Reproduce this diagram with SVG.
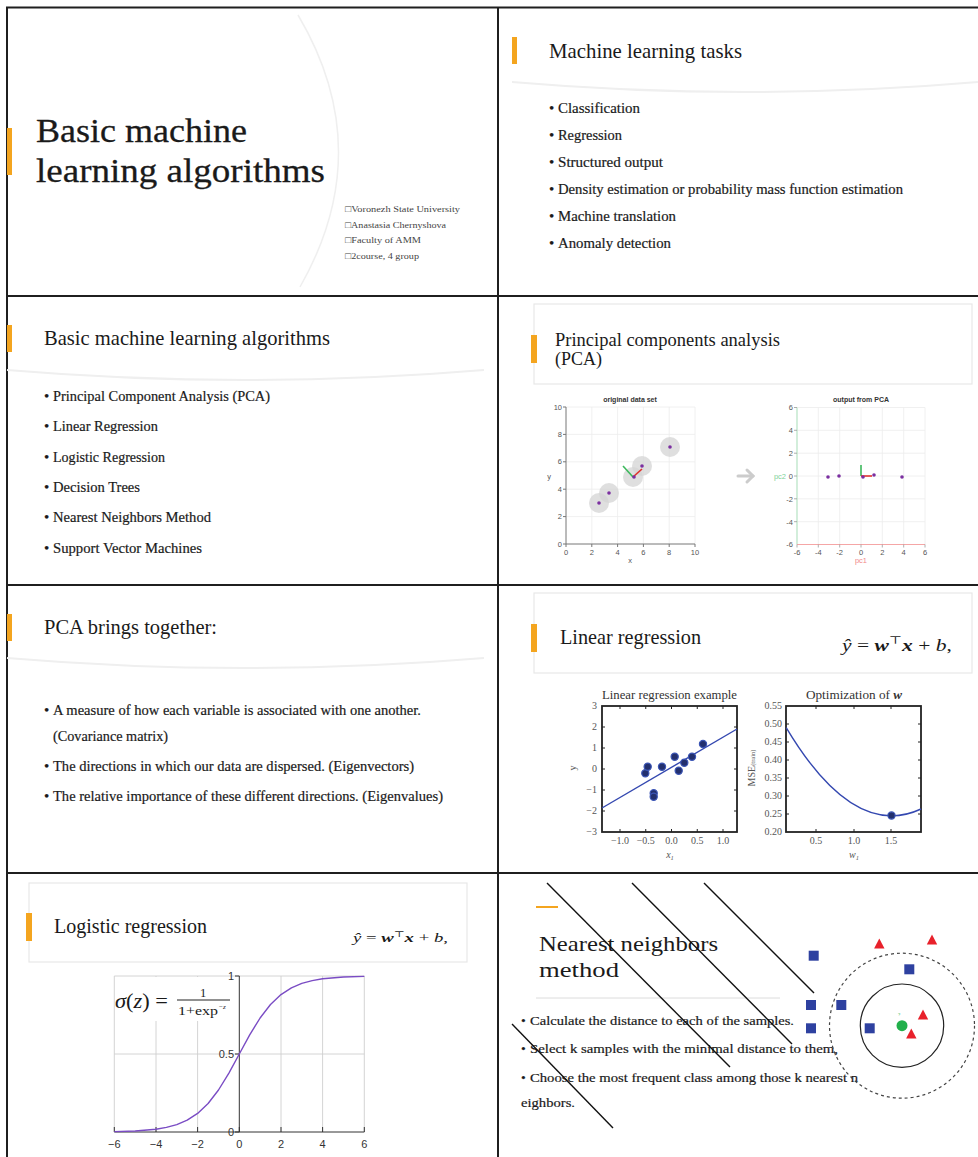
<svg xmlns="http://www.w3.org/2000/svg" width="978" height="1157" viewBox="0 0 978 1157">
  <style>
    .serif { font-family: "Liberation Serif", "DejaVu Serif", serif; fill: #1a1a1a; }
    .sans { font-family: "Liberation Sans", Arial, sans-serif; }
    .title { font-size: 21px; }
    .bul { font-size: 15px; stroke: #1a1a1a; stroke-width: 0.2; }
    .bar { fill: #f4a51f; }
    .sep { fill: none; stroke: #efefef; stroke-width: 2; }
    .hdr { fill: #ffffff; stroke: #e8e8e8; stroke-width: 1.2; }
    .frame { stroke: #1f1f1f; stroke-width: 2; fill: none; }
    .grid { stroke: #ececec; stroke-width: 0.8; fill: none; }
    .tick { font-size: 7.5px; fill: #555; }
    .mtick { font-family: "Liberation Serif", serif; font-size: 10px; fill: #555; }
    .lrbox { fill: none; stroke: #222; stroke-width: 1.8; }
    .pt { fill: #7b2fa0; }
    .dot { fill: #23306e; stroke: #3b55b5; stroke-width: 1.2; }
    .sq { fill: #2e41a0; }
    .tri { fill: #e8212b; }
    .diag { stroke: #111; stroke-width: 1.4; }
  </style>

  <!-- page frame: 2 x 4 grid of slides -->
  <g id="frame" class="frame">
    <line x1="6" y1="7.5" x2="978" y2="7.5"/>
    <line x1="7" y1="7" x2="7" y2="1157"/>
    <line x1="498" y1="7" x2="498" y2="1157"/>
    <line x1="6" y1="296" x2="978" y2="296"/>
    <line x1="6" y1="585" x2="978" y2="585"/>
    <line x1="6" y1="873" x2="978" y2="873"/>
  </g>

  <!-- slide 1: title -->
  <g id="slide-title">
    <path d="M298,15 Q378,150 300,287" fill="none" stroke="#efefef" stroke-width="1.5"/>
    <rect class="bar" x="7" y="128" width="5" height="47"/>
    <text class="serif" x="36" y="142" font-size="34" stroke="#1a1a1a" stroke-width="0.3" textLength="211" lengthAdjust="spacingAndGlyphs">Basic machine</text>
    <text class="serif" x="36" y="182" font-size="34" stroke="#1a1a1a" stroke-width="0.3" textLength="289" lengthAdjust="spacingAndGlyphs">learning algorithms</text>
    <g class="serif" font-size="9">
      <text x="345" y="212" style="fill:#444" textLength="115" lengthAdjust="spacingAndGlyphs">□Voronezh State University</text>
      <text x="345" y="228" style="fill:#444" textLength="101" lengthAdjust="spacingAndGlyphs">□Anastasia  Chernyshova</text>
      <text x="345" y="243" style="fill:#444" textLength="76" lengthAdjust="spacingAndGlyphs">□Faculty  of AMM</text>
      <text x="345" y="259" style="fill:#444" textLength="74" lengthAdjust="spacingAndGlyphs">□2course, 4 group</text>
    </g>
  </g>

  <!-- slide 2: tasks -->
  <g id="slide-tasks">
    <rect class="bar" x="512" y="37" width="5" height="27"/>
    <text class="serif" x="549" y="58" font-size="21" textLength="193" lengthAdjust="spacingAndGlyphs">Machine learning tasks</text>
    <path class="sep" d="M512,82 Q745,102 978,82"/>
    <g class="serif bul">
      <text x="549" y="113">•</text><text x="558" y="113" textLength="82" lengthAdjust="spacingAndGlyphs">Classification</text>
      <text x="549" y="140">•</text><text x="558" y="140" textLength="64" lengthAdjust="spacingAndGlyphs">Regression</text>
      <text x="549" y="167">•</text><text x="558" y="167" textLength="105" lengthAdjust="spacingAndGlyphs">Structured output</text>
      <text x="549" y="194">•</text><text x="558" y="194" textLength="345" lengthAdjust="spacingAndGlyphs">Density estimation or probability mass function estimation</text>
      <text x="549" y="221">•</text><text x="558" y="221" textLength="118" lengthAdjust="spacingAndGlyphs">Machine translation</text>
      <text x="549" y="248">•</text><text x="558" y="248" textLength="113" lengthAdjust="spacingAndGlyphs">Anomaly detection</text>
    </g>
  </g>

  <!-- slide 3: algorithm list -->
  <g id="slide-algorithms">
    <rect class="bar" x="7" y="325" width="5" height="27"/>
    <text class="serif title" x="44" y="345" textLength="286" lengthAdjust="spacingAndGlyphs">Basic machine learning algorithms</text>
    <path class="sep" d="M7,370 Q245,390 484,370"/>
    <g class="serif bul">
      <text x="44" y="401">•</text><text x="53" y="401" textLength="217" lengthAdjust="spacingAndGlyphs">Principal Component Analysis (PCA)</text>
      <text x="44" y="431">•</text><text x="53" y="431" textLength="105" lengthAdjust="spacingAndGlyphs">Linear Regression</text>
      <text x="44" y="462">•</text><text x="53" y="462" textLength="112" lengthAdjust="spacingAndGlyphs">Logistic Regression</text>
      <text x="44" y="492">•</text><text x="53" y="492" textLength="87" lengthAdjust="spacingAndGlyphs">Decision Trees</text>
      <text x="44" y="522">•</text><text x="53" y="522" textLength="158" lengthAdjust="spacingAndGlyphs">Nearest Neighbors Method</text>
      <text x="44" y="553">•</text><text x="53" y="553" textLength="149" lengthAdjust="spacingAndGlyphs">Support Vector Machines</text>
    </g>
  </g>

  <!-- slide 4: PCA charts -->
  <g id="slide-pca">
    <rect class="hdr" x="534" y="304" width="438" height="80"/>
    <rect class="bar" x="531" y="335" width="6" height="28"/>
    <text class="serif" x="555" y="346" font-size="19.5" textLength="225" lengthAdjust="spacingAndGlyphs">Principal components analysis</text>
    <text class="serif" x="555" y="365" font-size="19.5" textLength="47" lengthAdjust="spacingAndGlyphs">(PCA)</text>

    <!-- original data set -->
    <g id="pca-original" class="sans">
      <text x="630" y="402" text-anchor="middle" font-size="7" font-weight="bold" fill="#333">original data set</text>
      <g class="grid">
        <line x1="591.8" y1="407" x2="591.8" y2="544"/><line x1="617.6" y1="407" x2="617.6" y2="544"/>
        <line x1="643.4" y1="407" x2="643.4" y2="544"/><line x1="669.2" y1="407" x2="669.2" y2="544"/>
        <line x1="695" y1="407" x2="695" y2="544"/>
        <line x1="566" y1="407" x2="695" y2="407"/><line x1="566" y1="434.4" x2="695" y2="434.4"/>
        <line x1="566" y1="461.8" x2="695" y2="461.8"/><line x1="566" y1="489.2" x2="695" y2="489.2"/>
        <line x1="566" y1="516.6" x2="695" y2="516.6"/>
      </g>
      <g stroke="#777" stroke-width="1">
        <line x1="566" y1="407" x2="566" y2="544"/><line x1="566" y1="544" x2="695" y2="544"/>
        <line x1="563" y1="407" x2="566" y2="407"/><line x1="563" y1="434.4" x2="566" y2="434.4"/>
        <line x1="563" y1="461.8" x2="566" y2="461.8"/><line x1="563" y1="489.2" x2="566" y2="489.2"/>
        <line x1="563" y1="516.6" x2="566" y2="516.6"/><line x1="563" y1="544" x2="566" y2="544"/>
        <line x1="566" y1="544" x2="566" y2="547"/><line x1="591.8" y1="544" x2="591.8" y2="547"/>
        <line x1="617.6" y1="544" x2="617.6" y2="547"/><line x1="643.4" y1="544" x2="643.4" y2="547"/>
        <line x1="669.2" y1="544" x2="669.2" y2="547"/><line x1="695" y1="544" x2="695" y2="547"/>
      </g>
      <g class="tick" text-anchor="end">
        <text x="562" y="410">10</text><text x="562" y="437">8</text><text x="562" y="464">6</text>
        <text x="562" y="492">4</text><text x="562" y="519">2</text><text x="562" y="547">0</text>
      </g>
      <g class="tick" text-anchor="middle">
        <text x="566" y="555">0</text><text x="591.8" y="555">2</text><text x="617.6" y="555">4</text>
        <text x="643.4" y="555">6</text><text x="669.2" y="555">8</text><text x="695" y="555">10</text>
        <text x="630" y="563">x</text><text x="549" y="479">y</text>
      </g>
      <g fill="#d4d4d4" fill-opacity="0.75">
        <circle cx="599" cy="503" r="10"/><circle cx="609" cy="493" r="10"/>
        <circle cx="633" cy="477" r="10"/><circle cx="642" cy="466" r="10"/>
        <circle cx="670" cy="447" r="10"/>
      </g>
      <line x1="633" y1="477" x2="623" y2="466" stroke="#3cb85c" stroke-width="1.6"/>
      <line x1="633" y1="477" x2="642" y2="469" stroke="#e0332e" stroke-width="1.6"/>
      <g class="pt">
        <circle cx="599" cy="503" r="1.8"/><circle cx="609" cy="493" r="1.8"/>
        <circle cx="634" cy="477" r="1.8"/><circle cx="642" cy="466" r="1.8"/>
        <circle cx="670" cy="447" r="1.8"/>
      </g>
    </g>

    <!-- transformation arrow -->
    <g id="pca-arrow" fill="none" stroke="#cccccc" stroke-width="3" stroke-linecap="round">
      <line x1="738" y1="476" x2="753" y2="476"/>
      <polyline points="747,470 753,476 747,482"/>
    </g>

    <!-- output from PCA -->
    <g id="pca-output" class="sans">
      <text x="861" y="402" text-anchor="middle" font-size="7" font-weight="bold" fill="#333">output from PCA</text>
      <g class="grid">
        <line x1="818.3" y1="407.5" x2="818.3" y2="544.5"/><line x1="839.7" y1="407.5" x2="839.7" y2="544.5"/>
        <line x1="861" y1="407.5" x2="861" y2="544.5"/><line x1="882.3" y1="407.5" x2="882.3" y2="544.5"/>
        <line x1="903.7" y1="407.5" x2="903.7" y2="544.5"/><line x1="925" y1="407.5" x2="925" y2="544.5"/>
        <line x1="797" y1="407.5" x2="925" y2="407.5"/><line x1="797" y1="430.3" x2="925" y2="430.3"/>
        <line x1="797" y1="453.2" x2="925" y2="453.2"/><line x1="797" y1="476" x2="925" y2="476"/>
        <line x1="797" y1="498.8" x2="925" y2="498.8"/><line x1="797" y1="521.7" x2="925" y2="521.7"/>
      </g>
      <line x1="797" y1="407.5" x2="797" y2="544.5" stroke="#b5e3c3" stroke-width="1.2"/>
      <line x1="797" y1="544.5" x2="925" y2="544.5" stroke="#f5a6a6" stroke-width="1.2"/>
      <g stroke="#999" stroke-width="0.8">
        <line x1="794" y1="407.5" x2="797" y2="407.5"/><line x1="794" y1="430.3" x2="797" y2="430.3"/>
        <line x1="794" y1="453.2" x2="797" y2="453.2"/><line x1="794" y1="476" x2="797" y2="476"/>
        <line x1="794" y1="498.8" x2="797" y2="498.8"/><line x1="794" y1="521.7" x2="797" y2="521.7"/>
        <line x1="797" y1="544.5" x2="797" y2="547.5"/><line x1="818.3" y1="544.5" x2="818.3" y2="547.5"/>
        <line x1="839.7" y1="544.5" x2="839.7" y2="547.5"/><line x1="861" y1="544.5" x2="861" y2="547.5"/>
        <line x1="882.3" y1="544.5" x2="882.3" y2="547.5"/><line x1="903.7" y1="544.5" x2="903.7" y2="547.5"/>
        <line x1="925" y1="544.5" x2="925" y2="547.5"/>
      </g>
      <g class="tick" text-anchor="end">
        <text x="793" y="410">6</text><text x="793" y="433">4</text><text x="793" y="456">2</text>
        <text x="793" y="479">0</text><text x="793" y="501.5">-2</text><text x="793" y="524.5">-4</text>
        <text x="793" y="547">-6</text>
        <text x="786" y="479" fill="#7fd29a">pc2</text>
      </g>
      <g class="tick" text-anchor="middle">
        <text x="797" y="555">-6</text><text x="818.3" y="555">-4</text><text x="839.7" y="555">-2</text>
        <text x="861" y="555">0</text><text x="882.3" y="555">2</text><text x="903.7" y="555">4</text>
        <text x="925" y="555">6</text>
        <text x="861" y="563" fill="#f28a8a">pc1</text>
      </g>
      <line x1="861" y1="476" x2="861" y2="465" stroke="#3cb85c" stroke-width="1.6"/>
      <line x1="861" y1="476" x2="872" y2="476" stroke="#e0332e" stroke-width="1.6"/>
      <g class="pt">
        <circle cx="828" cy="477" r="1.8"/><circle cx="839" cy="476" r="1.8"/>
        <circle cx="863" cy="477" r="1.8"/><circle cx="874" cy="475" r="1.8"/>
        <circle cx="902" cy="477" r="1.8"/>
      </g>
    </g>
  </g>

  <!-- slide 5: PCA summary -->
  <g id="slide-pca-summary">
    <rect class="bar" x="7" y="614" width="5" height="27"/>
    <text class="serif title" x="44" y="634" textLength="173" lengthAdjust="spacingAndGlyphs">PCA brings together:</text>
    <path class="sep" d="M7,658 Q245,678 484,658"/>
    <g class="serif bul">
      <text x="44" y="715">•</text><text x="53" y="715" textLength="368" lengthAdjust="spacingAndGlyphs">A measure of how each variable is associated with one another.</text>
      <text x="53" y="741" textLength="115" lengthAdjust="spacingAndGlyphs">(Covariance matrix)</text>
      <text x="44" y="771">•</text><text x="53" y="771" textLength="361" lengthAdjust="spacingAndGlyphs">The directions in which our data  are dispersed. (Eigenvectors)</text>
      <text x="44" y="801">•</text><text x="53" y="801" textLength="390" lengthAdjust="spacingAndGlyphs">The relative importance of these different directions. (Eigenvalues)</text>
    </g>
  </g>

  <!-- slide 6: linear regression -->
  <g id="slide-linear">
    <rect class="hdr" x="534" y="593" width="438" height="80"/>
    <rect class="bar" x="531" y="624" width="6" height="28"/>
    <text class="serif title" x="560" y="644" textLength="141" lengthAdjust="spacingAndGlyphs">Linear regression</text>
    <text class="serif" x="842" y="651" font-size="17" textLength="110" lengthAdjust="spacingAndGlyphs"><tspan font-style="italic">ŷ</tspan> = <tspan font-weight="bold" font-style="italic">w</tspan><tspan font-size="11" dy="-7">⊤</tspan><tspan font-weight="bold" font-style="italic" dy="7">x</tspan> + <tspan font-style="italic">b</tspan>,</text>

    <!-- fitted line example -->
    <g id="lr-example">
      <text class="serif" x="602" y="699" font-size="12" style="fill:#333" textLength="135" lengthAdjust="spacingAndGlyphs">Linear regression example</text>
      <rect class="lrbox" x="602" y="706" width="135" height="126"/>
      <g stroke="#222" stroke-width="1">
        <path d="M602,727H605M602,748H605M602,769H605M602,790H605M602,811H605"/>
        <path d="M737,727H734M737,748H734M737,769H734M737,790H734M737,811H734"/>
        <path d="M620,706V709M645.75,706V709M671.5,706V709M697.25,706V709M723,706V709"/>
        <path d="M620,832V829M645.75,832V829M671.5,832V829M697.25,832V829M723,832V829"/>
      </g>
      <g class="mtick" text-anchor="end">
        <text x="597" y="709">3</text><text x="597" y="730">2</text><text x="597" y="751">1</text>
        <text x="597" y="772">0</text><text x="597" y="793">−1</text><text x="597" y="814">−2</text>
        <text x="597" y="835">−3</text>
      </g>
      <g class="mtick" text-anchor="middle">
        <text x="620" y="844">−1.0</text><text x="645.75" y="844">−0.5</text><text x="671.5" y="844">0.0</text>
        <text x="697.25" y="844">0.5</text><text x="723" y="844">1.0</text>
        <text x="670" y="858" font-style="italic">x<tspan font-size="6.5" dy="2">1</tspan></text>
      </g>
      <text class="mtick" transform="translate(576,768) rotate(-90)" text-anchor="middle">y</text>
      <line x1="602" y1="808" x2="737" y2="729" stroke="#3448b0" stroke-width="1.4"/>
      <g class="dot">
        <circle cx="645.3" cy="773.3" r="3.6"/><circle cx="647.7" cy="766.7" r="3.6"/>
        <circle cx="662" cy="766.7" r="3.6"/><circle cx="653.7" cy="793.3" r="3.6"/>
        <circle cx="653.7" cy="796.7" r="3.6"/><circle cx="674.7" cy="756.7" r="3.6"/>
        <circle cx="678.7" cy="770.7" r="3.6"/><circle cx="684.3" cy="762.7" r="3.6"/>
        <circle cx="692" cy="756.7" r="3.6"/><circle cx="703" cy="744" r="3.6"/>
      </g>
    </g>

    <!-- MSE versus weight -->
    <g id="lr-optimization">
      <text class="serif" x="806" y="699" font-size="12" style="fill:#333" textLength="96" lengthAdjust="spacingAndGlyphs">Optimization of <tspan font-weight="bold" font-style="italic">w</tspan></text>
      <rect class="lrbox" x="786" y="706" width="135" height="126"/>
      <g stroke="#222" stroke-width="1">
        <path d="M786,724H789M786,742H789M786,760H789M786,778H789M786,796H789M786,814H789"/>
        <path d="M921,724H918M921,742H918M921,760H918M921,778H918M921,796H918M921,814H918"/>
        <path d="M816,706V709M854,706V709M891,706V709M816,832V829M854,832V829M891,832V829"/>
      </g>
      <g class="mtick" text-anchor="end">
        <text x="782" y="709">0.55</text><text x="782" y="727">0.50</text><text x="782" y="745">0.45</text>
        <text x="782" y="763">0.40</text><text x="782" y="781">0.35</text><text x="782" y="799">0.30</text>
        <text x="782" y="817">0.25</text><text x="782" y="835">0.20</text>
      </g>
      <g class="mtick" text-anchor="middle">
        <text x="816" y="844">0.5</text><text x="854" y="844">1.0</text><text x="891" y="844">1.5</text>
        <text x="854" y="858" font-style="italic">w<tspan font-size="6.5" dy="2">1</tspan></text>
      </g>
      <text class="mtick" transform="translate(755,768) rotate(-90)" text-anchor="middle">MSE<tspan font-size="6.5">(train)</tspan></text>
      <path d="M786.2,727.6 Q853.6,840.4 921,809" fill="none" stroke="#3448b0" stroke-width="1.4"/>
      <circle class="dot" cx="891.5" cy="815.5" r="3.6"/>
    </g>
  </g>

  <!-- slide 7: logistic regression -->
  <g id="slide-logistic">
    <rect class="hdr" x="29" y="883" width="438" height="79"/>
    <rect class="bar" x="26" y="913" width="6" height="28"/>
    <text class="serif title" x="54" y="933" textLength="153" lengthAdjust="spacingAndGlyphs">Logistic regression</text>
    <text class="serif" x="353" y="942" font-size="13" textLength="95" lengthAdjust="spacingAndGlyphs"><tspan font-style="italic">ŷ</tspan> = <tspan font-weight="bold" font-style="italic">w</tspan><tspan font-size="8" dy="-5">⊤</tspan><tspan font-weight="bold" font-style="italic" dy="5">x</tspan> + <tspan font-style="italic">b</tspan>,</text>

    <g id="sigmoid-plot">
      <g stroke="#cfcfcf" stroke-width="0.9" fill="none">
        <line x1="114.3" y1="976" x2="114.3" y2="1132"/>
        <line x1="156" y1="976" x2="156" y2="1132"/>
        <line x1="197.6" y1="976" x2="197.6" y2="1132"/>
        <line x1="281" y1="976" x2="281" y2="1132"/>
        <line x1="322.6" y1="976" x2="322.6" y2="1132"/>
        <line x1="364.3" y1="976" x2="364.3" y2="1132"/>
        <line x1="114.3" y1="976" x2="364.3" y2="976"/>
        <line x1="114.3" y1="1054" x2="364.3" y2="1054"/>
      </g>
      <!-- backdrop for the formula -->
      <rect x="115" y="977" width="117" height="44" fill="#ffffff"/>
      <g stroke="#333" stroke-width="1">
        <line x1="239.3" y1="976" x2="239.3" y2="1132"/>
        <line x1="114.3" y1="1132" x2="364.3" y2="1132"/>
        <path d="M235,976H239.3M235,1054H239.3M235,1132H239.3"/>
        <path d="M114.3,1132V1127M156,1132V1127M197.6,1132V1127M239.3,1132V1127M281,1132V1127M322.6,1132V1127M364.3,1132V1127"/>
      </g>
      <g class="sans" font-size="11" fill="#333">
        <text x="234" y="980" text-anchor="end">1</text>
        <text x="234" y="1058" text-anchor="end">0.5</text>
        <text x="234" y="1136" text-anchor="end">0</text>
      </g>
      <g class="sans" font-size="11" fill="#333" text-anchor="middle">
        <text x="114.3" y="1148">−6</text><text x="156" y="1148">−4</text><text x="197.6" y="1148">−2</text>
        <text x="239.3" y="1148">0</text><text x="281" y="1148">2</text><text x="322.6" y="1148">4</text>
        <text x="364.3" y="1148">6</text>
      </g>
      <polyline fill="none" stroke="#7a4cc4" stroke-width="1.4" stroke-linejoin="round"
        points="114.3,1131.6 135.2,1131 156,1129.2 166.4,1127.4 176.8,1124.6 187.2,1120.2 197.6,1113.4 208.1,1103.5 218.5,1090 228.9,1073.1 239.3,1054 249.7,1034.9 260.1,1018 270.5,1004.5 281,994.6 291.4,987.9 301.8,983.4 312.2,980.6 322.6,978.8 343.5,977 364.3,976.4"/>
      <text class="serif" x="115" y="1008" font-size="21" textLength="53" lengthAdjust="spacingAndGlyphs"><tspan font-style="italic">σ</tspan>(<tspan font-style="italic">z</tspan>) =</text>
      <line x1="177" y1="1000" x2="230" y2="1000" stroke="#222" stroke-width="1"/>
      <text class="serif" x="203" y="997" font-size="12.5" text-anchor="middle">1</text>
      <text class="serif" x="178" y="1015" font-size="13" textLength="40" lengthAdjust="spacingAndGlyphs">1+exp</text>
      <text class="serif" x="219" y="1009" font-size="7">−<tspan font-style="italic">z</tspan></text>
    </g>
  </g>

  <!-- slide 8: nearest neighbors -->
  <g id="slide-knn">
    <line x1="536" y1="907" x2="558" y2="907" stroke="#f4a51f" stroke-width="2"/>
    <text class="serif" x="539" y="951" font-size="22" textLength="179" lengthAdjust="spacingAndGlyphs">Nearest neighbors</text>
    <text class="serif" x="539" y="977" font-size="22" textLength="80" lengthAdjust="spacingAndGlyphs">method</text>
    <line x1="536" y1="998" x2="780" y2="998" stroke="#dcdcdc" stroke-width="1"/>
    <g class="serif" font-size="13.5" stroke="#1a1a1a" stroke-width="0.2">
      <text x="521" y="1025">•</text><text x="530" y="1025" textLength="264" lengthAdjust="spacingAndGlyphs">Calculate the distance to each of the samples.</text>
      <text x="521" y="1053">•</text><text x="530" y="1053" textLength="308" lengthAdjust="spacingAndGlyphs">Select k  samples with the minimal distance to them,</text>
      <text x="521" y="1082">•</text><text x="530" y="1082" textLength="328" lengthAdjust="spacingAndGlyphs">Choose the most frequent class among those  k nearest n</text>
      <text x="521" y="1107" textLength="54" lengthAdjust="spacingAndGlyphs">eighbors.</text>
    </g>
    <g class="diag">
      <line x1="547" y1="883" x2="730" y2="1067"/>
      <line x1="632" y1="883" x2="792" y2="1044"/>
      <line x1="704" y1="883" x2="814" y2="993"/>
      <line x1="512" y1="1024" x2="613" y2="1128"/>
    </g>
    <g id="knn-plot">
      <circle cx="902" cy="1025.7" r="72.5" fill="none" stroke="#444" stroke-width="1.2" stroke-dasharray="3,3"/>
      <circle cx="902" cy="1025.7" r="41.7" fill="none" stroke="#222" stroke-width="1.2"/>
      <g class="sq">
        <rect x="808.7" y="950.7" width="10" height="10"/>
        <rect x="904.3" y="964.3" width="10" height="10"/>
        <rect x="806" y="1000" width="10" height="10"/>
        <rect x="836.3" y="1000" width="10" height="10"/>
        <rect x="806" y="1023.3" width="10" height="10"/>
        <rect x="864.7" y="1023.3" width="10" height="10"/>
      </g>
      <g class="tri">
        <polygon points="879.3,938.5 884.5,948.5 874.1,948.5"/>
        <polygon points="932,934.5 937.2,944.5 926.8,944.5"/>
        <polygon points="923,1009.5 928.2,1019.5 917.8,1019.5"/>
        <polygon points="911.3,1028.5 916.5,1038.5 906.1,1038.5"/>
      </g>
      <circle cx="902" cy="1025.7" r="5.5" fill="#22b04b"/>
      <text class="sans" x="899" y="1016" font-size="4" fill="#22b04b" text-anchor="middle">?</text>
    </g>
  </g>
</svg>
